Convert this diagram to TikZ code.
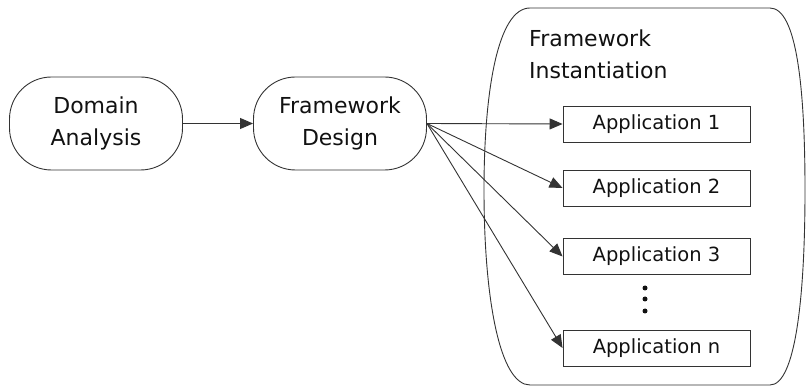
\documentclass[tikz,border=0pt]{standalone}
\usepackage{fontspec}
\setmainfont{DejaVu Sans}
\usetikzlibrary{arrows.meta}
\definecolor{linegray}{HTML}{333333}
\definecolor{inkgray}{HTML}{111111}
\begin{document}
\begin{tikzpicture}[x=1pt,y=-1pt,
  phase/.style={draw=linegray, line width=0.9pt, rounded corners=42pt,
    minimum width=173pt, minimum height=93pt, inner sep=0pt, align=center,
    text=inkgray, font=\fontsize{22}{32}\selectfont},
  appbox/.style={draw=linegray, line width=0.9pt, minimum width=187pt,
    minimum height=36pt, inner sep=0pt, text=inkgray,
    font=\fontsize{19.5}{24}\selectfont},
  link/.style={draw=linegray, line width=0.9pt,
    -{Triangle[length=13pt,width=11pt]}},
  dot/.style={circle, fill=inkgray, inner sep=0pt, minimum size=5pt}]
\useasboundingbox (0,0) rectangle (806,387);

% container for the instantiation stage
\draw[linegray, line width=0.9pt]
  (530,8) -- (770,8)
  .. controls (797,8) and (805,90) .. (805,190)
  .. controls (805,300) and (795,385) .. (770,385)
  -- (530,385)
  .. controls (500,385) and (484,300) .. (484,190)
  .. controls (484,90) and (498,8) .. (530,8) -- cycle;
\node[anchor=north west, inner sep=0pt, align=left, text=inkgray,
  font=\fontsize{22}{32}\selectfont] (inst) at (529,30)
  {Framework\\Instantiation};

% development stages
\node[phase] (domain) at (96,123.5) {Domain\\Analysis};
\node[phase] (design) at (340,123.5) {Framework\\Design};

% applications
\node[appbox] (app1) at (656.5,124) {Application 1};
\node[appbox] (app2) at (656.5,188) {Application 2};
\node[appbox] (app3) at (656.5,256.5) {Application 3};
\node[appbox] (appn) at (656.5,348) {Application n};

\node[dot] (d1) at (645,288) {};
\node[dot] (d2) at (645,299) {};
\node[dot] (d3) at (645,311) {};

% connectors
\draw[link] (domain.east) -- (design.west);
\draw[link] (design.east) -- (app1.west);
\draw[link] (design.east) -- (app2.west);
\draw[link] (design.east) -- (app3.west);
\draw[link] (design.east) -- (appn.west);
\end{tikzpicture}
\end{document}
